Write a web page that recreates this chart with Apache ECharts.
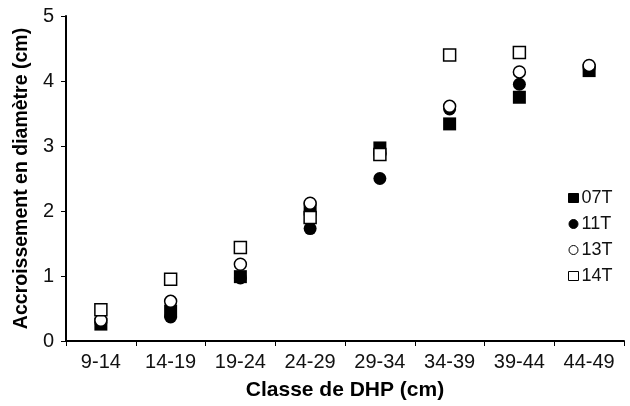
<!DOCTYPE html>
<html>
<head>
<meta charset="utf-8">
<script src="https://cdn.jsdelivr.net/npm/echarts@6/dist/echarts.min.js"></script>
<style>
  html, body { margin: 0; padding: 0; background: #fff; }
  #chart { width: 630px; height: 406px; }
</style>
</head>
<body>
<div id="chart"></div>
<script>
// Diameter classes (DHP, cm)
const categories = ['9-14', '14-19', '19-24', '24-29', '29-34', '34-39', '39-44', '44-49'];

// Diameter growth (cm) per treatment
const s07T = [0.26, 0.46, 0.99, 2.03, 2.97, 3.34, 3.75, 4.16];
const s11T = [0.28, 0.37, 0.97, 1.73, 2.50, 3.57, 3.95, 4.20];
const s13T = [0.32, 0.61, 1.18, 2.12, 2.88, 3.61, 4.14, 4.24];
const s14T = [0.48, 0.95, 1.44, 1.90, 2.87, 4.40, 4.44, null];

const seriesNames = ['07T', '11T', '13T', '14T'];
const yTicks = { min: 0, max: 5, interval: 1 };

const FONT = '"Liberation Sans", Arial, Helvetica, sans-serif';

function makeSeries(name, data, symbol, filled, size) {
  return {
    name: name,
    type: 'scatter',
    data: data,
    symbol: symbol,
    symbolSize: size,
    itemStyle: {
      color: filled ? '#000' : '#fff',
      borderColor: '#000',
      borderWidth: filled ? 0 : 1.5,
      opacity: 1
    },
    emphasis: { disabled: true }
  };
}

const chart = echarts.init(document.getElementById('chart'), null, { renderer: 'canvas' });
chart.setOption({
  animation: false,
  backgroundColor: '#fff',
  textStyle: { fontFamily: FONT, color: '#000' },
  grid: { left: 66, right: 6, top: 16, bottom: 64, containLabel: false },
  legend: {
    orient: 'vertical',
    left: 568,
    top: 189,
    padding: 0,
    itemWidth: 10,
    itemHeight: 9,
    itemGap: 8,
    itemStyle: { borderWidth: 1 },
    textStyle: { fontFamily: FONT, fontSize: 18, color: '#111', padding: [0, 0, 0, -2] },
    data: seriesNames
  },
  xAxis: {
    type: 'category',
    data: categories,
    boundaryGap: true,
    name: 'Classe de DHP (cm)',
    nameLocation: 'middle',
    nameGap: 39,
    nameTextStyle: { fontFamily: FONT, fontSize: 21, fontWeight: 'bold', color: '#000' },
    axisLine: { lineStyle: { color: '#000', width: 2 } },
    axisTick: { show: true, alignWithLabel: false, length: 5, lineStyle: { color: '#000', width: 1 } },
    axisLabel: { fontFamily: FONT, fontSize: 20, color: '#111', margin: 11 },
    splitLine: { show: false }
  },
  yAxis: {
    type: 'value',
    min: yTicks.min,
    max: yTicks.max,
    interval: yTicks.interval,
    name: 'Accroissement en diamètre (cm)',
    nameLocation: 'middle',
    nameGap: 30,
    nameTextStyle: { fontFamily: FONT, fontSize: 19.5, fontWeight: 'bold', color: '#000' },
    axisLine: { show: true, lineStyle: { color: '#000', width: 2 } },
    axisTick: { show: true, length: 5, lineStyle: { color: '#000', width: 1 } },
    axisLabel: { fontFamily: FONT, fontSize: 20, color: '#111', margin: 12 },
    splitLine: { show: false }
  },
  series: [
    makeSeries('07T', s07T, 'rect', true, 13),
    makeSeries('11T', s11T, 'circle', true, 13),
    makeSeries('13T', s13T, 'circle', false, 12),
    makeSeries('14T', s14T, 'rect', false, 12)
  ]
});
</script>
</body>
</html>
